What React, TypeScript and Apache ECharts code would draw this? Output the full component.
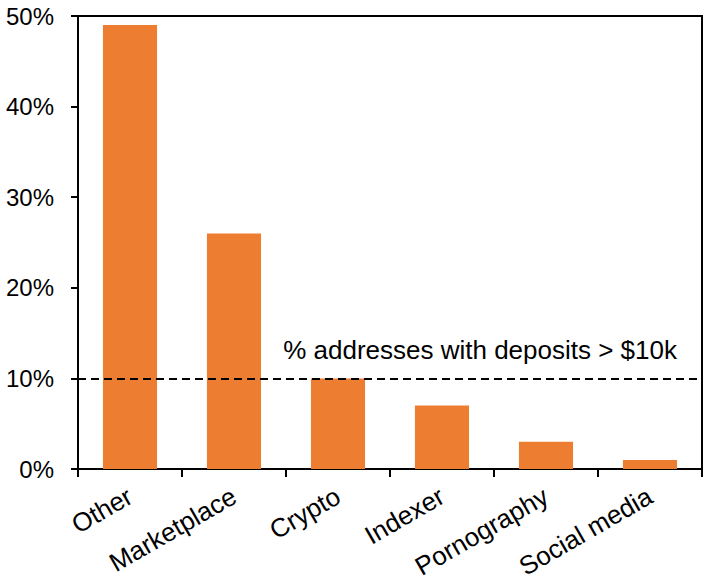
import React, { useEffect, useRef } from "react";
import * as echarts from "echarts";

const categories = ["Other", "Marketplace", "Crypto", "Indexer", "Pornography", "Social media"];
const shares = [49, 26, 10, 7, 3, 1];
const thresholdValue = 10;
const thresholdLabel = "% addresses with deposits > $10k";

export default function App() {
  const ref = useRef<HTMLDivElement>(null);
  useEffect(() => {
    if (!ref.current) return;
    const chart = echarts.init(ref.current, undefined, { renderer: "svg" });
    const font = "'Liberation Sans', Arial, sans-serif";
    chart.setOption({
      animation: false,
      backgroundColor: "#fff",
      grid: {
        left: 78,
        right: 5,
        top: 16,
        bottom: 115,
        containLabel: false,
        outerBoundsMode: "none",
        show: true,
        borderColor: "#000",
        borderWidth: 2,
        backgroundColor: "transparent",
      },
      xAxis: {
        type: "category",
        data: categories,
        boundaryGap: true,
        axisLine: { show: true, lineStyle: { color: "#000", width: 2 } },
        axisTick: { show: true, alignWithLabel: false, length: 8, lineStyle: { color: "#000", width: 2 } },
        axisLabel: {
          rotate: 30,
          margin: 25,
          color: "#000",
          fontSize: 26,
          fontFamily: font,
          interval: 0,
          hideOverlap: false,
        },
        splitLine: { show: false },
      },
      yAxis: {
        type: "value",
        min: 0,
        max: 50,
        interval: 10,
        axisLine: { show: true, lineStyle: { color: "#000", width: 2 } },
        axisTick: { show: true, length: 7, lineStyle: { color: "#000", width: 2 } },
        axisLabel: {
          formatter: "{value}%",
          margin: 24,
          color: "#000",
          fontSize: 24,
          fontFamily: font,
        },
        splitLine: { show: false },
      },
      series: [
        {
          type: "bar",
          data: shares,
          barWidth: "52%",
          itemStyle: { color: "#ED7D31" },
          markLine: {
            silent: true,
            symbol: "none",
            lineStyle: { color: "#000", width: 2, type: [8, 5] },
            label: {
              show: true,
              position: "insideEndTop",
              formatter: thresholdLabel,
              color: "#000",
              fontSize: 26,
              fontFamily: font,
              distance: [25, 15],
            },
            data: [{ yAxis: thresholdValue }],
          },
        },
      ],
    });
    return () => chart.dispose();
  }, []);
  return (
    <div
      ref={ref}
      style={{ position: "fixed", left: 0, top: 0, width: 707, height: 584 }}
    />
  );
}
